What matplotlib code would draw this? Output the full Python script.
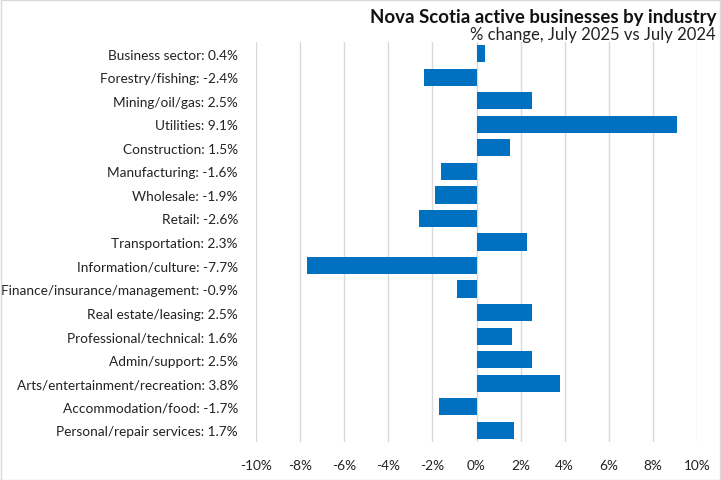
import matplotlib
matplotlib.use("Agg")
import matplotlib.pyplot as plt
from matplotlib.patches import Rectangle

industries = ["Business sector", "Forestry/fishing", "Mining/oil/gas", "Utilities",
              "Construction", "Manufacturing", "Wholesale", "Retail", "Transportation",
              "Information/culture", "Finance/insurance/management", "Real estate/leasing",
              "Professional/technical", "Admin/support", "Arts/entertainment/recreation",
              "Accommodation/food", "Personal/repair services"]
changes = [0.4, -2.4, 2.5, 9.1, 1.5, -1.6, -1.9, -2.6, 2.3, -7.7, -0.9, 2.5, 1.6, 2.5, 3.8, -1.7, 1.7]
xticks = [-10, -8, -6, -4, -2, 0, 2, 4, 6, 8, 10]

plt.rcParams['font.family'] = ['Lato', 'DejaVu Sans']
W, H = 721, 481
fig = plt.figure(figsize=(W/100, H/100), dpi=100)
ax = fig.add_axes([256/W, 1-443/H, (697-256)/W, 400/H])

y = list(range(len(industries)))
ax.barh(y, changes, height=0.73, color="#0070C0", zorder=3)
ax.set_ylim(len(industries)-0.5, -0.5)
ax.set_xlim(-10, 10)
ax.set_xticks(xticks)
ax.set_xticklabels([f"{t}%" for t in xticks], fontsize=9.8, color="#222222")
ax.set_yticks(y)
ax.set_yticklabels([f"{n}: {v}%" for n, v in zip(industries, changes)], fontsize=9.8, color="#222222")
ax.tick_params(axis='both', length=0)
ax.tick_params(axis='y', pad=13)
ax.tick_params(axis='x', pad=12)
ax.grid(axis='x', color="#D9D9D9", linewidth=1, zorder=0)
for s in ax.spines.values():
    s.set_visible(False)

fig.text(716/W, 1-17/H, "Nova Scotia active businesses by industry", ha="right", va="center",
         fontsize=13.4, fontweight="bold", color="#111111")
fig.text(716/W, 1-35/H, "% change, July 2025 vs July 2024", ha="right", va="center",
         fontsize=12, color="#222222")

fig.patches.append(Rectangle((0.5/W, 0.5/H), 1-1.5/W, 1-1.5/H, transform=fig.transFigure,
                             fill=False, edgecolor="#D9D9D9", linewidth=1))
fig.savefig("out.png", dpi=100)
